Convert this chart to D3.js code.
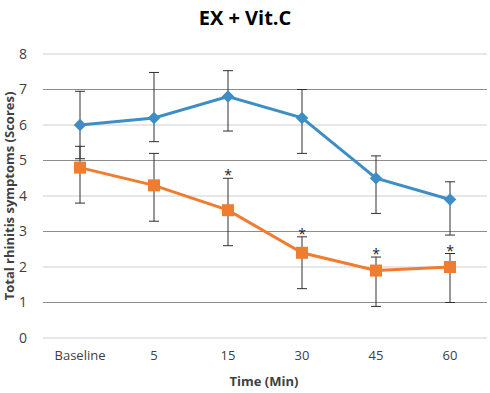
<!DOCTYPE html>
<html>
<head>
<meta charset="utf-8">
<script src="https://cdn.jsdelivr.net/npm/d3@7"></script>
<style>
  body { margin: 0; background: #fff; }
  text { font-family: "Open Sans", "Liberation Sans", sans-serif; }
</style>
</head>
<body>
<div id="chart"></div>
<script>
// categories and values
var categories = ["Baseline", "5", "15", "30", "45", "60"];
var blueVals = [6.0, 6.2, 6.8, 6.2, 4.5, 3.9];
var blueHigh = [6.95, 7.48, 7.53, 7.0, 5.13, 4.4];
var blueLow = [5.05, 5.53, 5.83, 5.2, 3.51, 2.9];
var orangeVals = [4.8, 4.3, 3.6, 2.4, 1.9, 2.0];
var orangeHigh = [5.4, 5.2, 4.5, 2.85, 2.28, 2.38];
var orangeLow = [3.8, 3.29, 2.6, 1.39, 0.89, 1.0];
var starred = ["15", "30", "45", "60"];
var yTicks = [0, 1, 2, 3, 4, 5, 6, 7, 8];

var width = 490, height = 393;

var svg = d3.select("#chart")
  .append("svg")
  .attr("width", width)
  .attr("height", height);

// scales
var x = d3.scaleBand()
  .domain(categories)
  .range([43, 487]);

var y = d3.scaleLinear()
  .domain([0, 8])
  .range([338, 54]);

var cx = function(c) { return x(c) + x.bandwidth() / 2; };

// gridlines
svg.append("g")
  .selectAll("line")
  .data(yTicks)
  .enter()
  .append("line")
  .attr("x1", 43)
  .attr("x2", 487)
  .attr("y1", d => y(d))
  .attr("y2", d => y(d))
  .attr("stroke", d => d % 2 == 1 ? "#8c8c8c" : "#cfcfcf")
  .attr("stroke-width", 1);

// y axis labels
var y_axis = d3.axisLeft(y)
  .tickValues(yTicks)
  .tickSize(0)
  .tickPadding(10);

var yg = svg.append("g")
  .attr("transform", "translate(37,0)")
  .call(y_axis);
yg.select(".domain").remove();
yg.selectAll("text")
  .attr("font-size", 14)
  .attr("fill", "#404040");

// x axis labels
var x_axis = d3.axisBottom(x)
  .tickSize(0)
  .tickPadding(10);

var xg = svg.append("g")
  .attr("transform", "translate(0,341)")
  .call(x_axis);
xg.select(".domain").remove();
xg.selectAll("text")
  .attr("font-size", 13)
  .attr("fill", "#404040");

// error bars
function errorBars(vals, high, low, color) {
  var g = svg.append("g");
  categories.forEach(function(c, i) {
    var px = cx(c);
    g.append("line")
      .attr("x1", px).attr("x2", px)
      .attr("y1", y(high[i])).attr("y2", y(low[i]))
      .attr("stroke", color).attr("stroke-width", 1);
    [high[i], low[i]].forEach(function(v) {
      g.append("line")
        .attr("x1", px - 5).attr("x2", px + 5)
        .attr("y1", y(v)).attr("y2", y(v))
        .attr("stroke", color).attr("stroke-width", 1);
    });
  });
}
errorBars(blueVals, blueHigh, blueLow, "#303030");
errorBars(orangeVals, orangeHigh, orangeLow, "#303030");

// lines
var line = d3.line()
  .x((d, i) => cx(categories[i]))
  .y(d => y(d));

svg.append("path")
  .datum(blueVals)
  .attr("d", line)
  .attr("fill", "none")
  .attr("stroke", "#3e8ec6")
  .attr("stroke-width", 3);

svg.append("path")
  .datum(orangeVals)
  .attr("d", line)
  .attr("fill", "none")
  .attr("stroke", "#ee7d31")
  .attr("stroke-width", 3);

// markers
svg.selectAll(".diamond")
  .data(blueVals)
  .enter()
  .append("path")
  .attr("class", "diamond")
  .attr("d", d3.symbol().type(d3.symbolDiamond2).size(100))
  .attr("transform", (d, i) => "translate(" + cx(categories[i]) + "," + y(d) + ")")
  .attr("fill", "#3e8ec6");

svg.selectAll(".square")
  .data(orangeVals)
  .enter()
  .append("rect")
  .attr("class", "square")
  .attr("x", (d, i) => cx(categories[i]) - 6)
  .attr("y", d => y(d) - 6)
  .attr("width", 12)
  .attr("height", 12)
  .attr("fill", "#ee7d31");

// significance stars
svg.selectAll(".star")
  .data(starred)
  .enter()
  .append("text")
  .attr("class", "star")
  .attr("x", d => cx(d))
  .attr("y", d => y(orangeHigh[categories.indexOf(d)]) + 2)
  .attr("text-anchor", "middle")
  .attr("font-size", 14)
  .attr("fill", "#202030")
  .text("*");

// title
svg.append("text")
  .attr("x", 245)
  .attr("y", 25)
  .attr("text-anchor", "middle")
  .attr("font-size", 20)
  .attr("font-weight", "bold")
  .attr("fill", "#000")
  .text("EX + Vit.C");

// axis titles
svg.append("text")
  .attr("x", 264)
  .attr("y", 386)
  .attr("text-anchor", "middle")
  .attr("font-size", 13)
  .attr("font-weight", "bold")
  .attr("fill", "#404040")
  .text("Time (Min)");

svg.append("text")
  .attr("transform", "translate(14,196) rotate(-90)")
  .attr("text-anchor", "middle")
  .attr("font-size", 13)
  .attr("font-weight", "bold")
  .attr("fill", "#404040")
  .text("Total rhinitis symptoms (Scores)");
</script>
</body>
</html>
